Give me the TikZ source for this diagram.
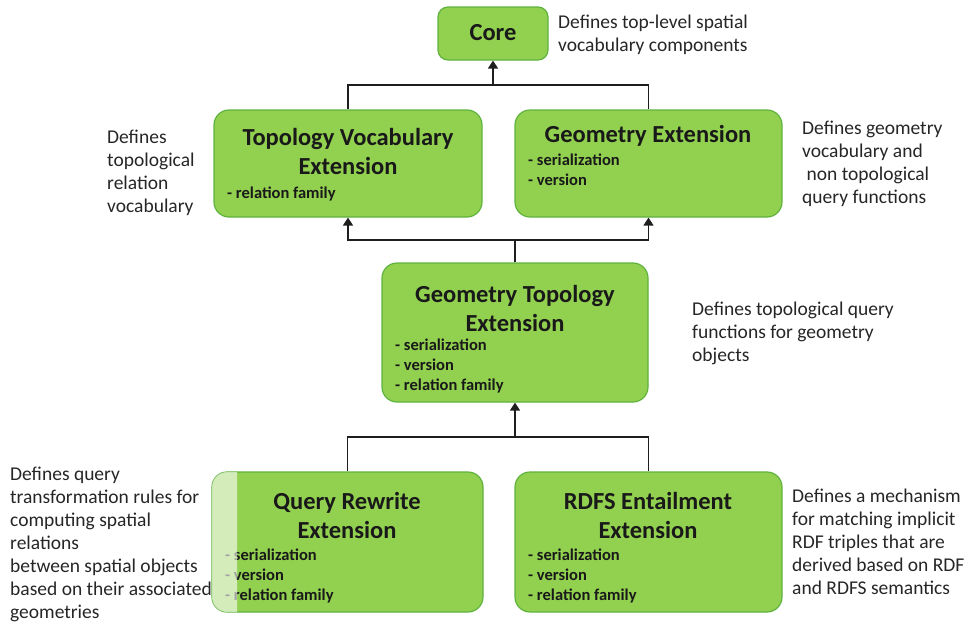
\documentclass[tikz,border=0pt]{standalone}
\usepackage{fontspec}
\setmainfont{Carlito}
\usetikzlibrary{arrows.meta}
\definecolor{boxfill}{RGB}{146,208,80}
\definecolor{boxedge}{RGB}{96,178,62}
\definecolor{linec}{RGB}{30,30,30}
\tikzset{
  box/.style={draw=boxedge, line width=1.2pt, fill=boxfill, rounded corners=15pt, inner sep=0pt},
  ttl/.style={font=\bfseries\fontsize{24.5}{29}\selectfont, align=center, inner sep=0pt, text=black!90},
  bul/.style={font=\bfseries\fontsize{16.5}{20}\selectfont, align=left, anchor=base west, inner sep=0pt, text=black!90},
  desc/.style={font=\fontsize{19.5}{23}\selectfont, align=left, anchor=base west, inner sep=0pt, text=black!85},
  conn/.style={draw=linec, line width=1.5pt},
  arr/.style={conn, -{Triangle[width=10pt,length=8pt]}}
}
\begin{document}
\begin{tikzpicture}[x=1pt,y=-1pt]
\useasboundingbox (0,0) rectangle (967,624);
% boxes
\node[box, rounded corners=10pt, minimum width=110pt, minimum height=53pt] (core) at (493,33.5) {};
\node[box, minimum width=268pt, minimum height=107pt] (tv) at (348,163.5) {};
\node[box, minimum width=267pt, minimum height=107pt] (ge) at (648.5,163.5) {};
\node[box, minimum width=266pt, minimum height=139pt] (gt) at (515,332.5) {};
\node[box, minimum width=271pt, minimum height=140pt] (qr) at (347.5,542) {};
\node[box, minimum width=267pt, minimum height=140pt] (rd) at (648.5,542) {};
% titles
\node[ttl] (coret) at (493,33) {Core};
\node[ttl] (tvt) at (348,151) {Topology Vocabulary\\Extension};
\node[ttl] (get) at (648,136) {Geometry Extension};
\node[ttl] (gtt) at (515,308) {Geometry Topology\\Extension};
\node[ttl] (qrt) at (347,515) {Query Rewrite\\Extension};
\node[ttl] (rdt) at (648,515) {RDFS Entailment\\Extension};
% bullets (anchor = baseline of last line)
\node[bul] (tvb) at (227,198) {- relation family};
\node[bul] (geb) at (528,185) {- serialization\\- version};
\node[bul] (gtb) at (395,390) {- serialization\\- version\\- relation family};
\node[bul] (qrb) at (225,600) {- serialization\\- version\\- relation family};
\node[bul] (rdb) at (528,600) {- serialization\\- version\\- relation family};
% overlay on query rewrite box
\begin{scope}
\clip (205,465) rectangle (237,620);
\fill[white, opacity=0.6, rounded corners=15pt] (212,472) rectangle (483,612);
\end{scope}
% connectors
\coordinate (j1) at (493,85);
\coordinate (j2) at (515,240);
\coordinate (j3) at (515,437);
\draw[conn] (tv.north) |- (j1) -| (ge.north);
\draw[arr] (j1) -- (core.south);
\draw[conn] (gt.north) -- (j2);
\draw[arr] (j2) -| (tv.south);
\draw[arr] (j2) -| (ge.south);
\draw[arr] (j3) -- (gt.south);
\draw[conn] (qr.north) |- (j3) -| (rd.north);
% descriptions (anchor = baseline of last line)
\node[desc] (d1) at (558,51) {Defines top-level spatial\\vocabulary components};
\node[desc] (d2) at (107,212) {Defines\\topological\\relation\\vocabulary};
\node[desc] (d3) at (802,203) {Defines geometry\\vocabulary and\\\ non topological\\query functions};
\node[desc] (d4) at (692,361) {Defines topological query\\functions for geometry\\objects};
\node[desc] (d5) at (10,618) {Defines query\\transformation rules for\\computing spatial\\relations\\between spatial objects\\based on their associated\\geometries};
\node[desc] (d6) at (792,594) {Defines a mechanism\\for matching implicit\\RDF triples that are\\derived based on RDF\\and RDFS semantics};
\end{tikzpicture}
\end{document}
